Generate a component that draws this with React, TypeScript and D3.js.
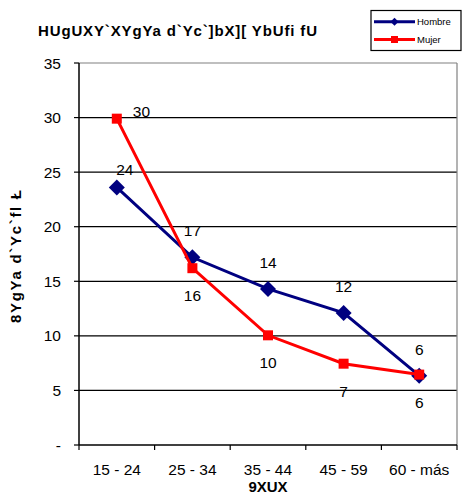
import React from "react";
import * as d3 from "d3";

const categories = ["15 - 24", "25 - 34", "35 - 44", "45 - 59", "60 - más"];
const hombreValues = [23.6, 17.2, 14.3, 12.1, 6.35];
const mujerValues = [29.9, 16.2, 10.05, 7.45, 6.45];
const hombreLabelPos = ["aboveNear", "above", "above", "above", "above"];
const mujerLabelPos = ["right", "below", "below", "below", "below"];
const yTicks = [0, 5, 10, 15, 20, 25, 30, 35];
const titleText = "HUgUXY`XYgYa d`Yc`]bX][ YbUfi fU";
const yAxisTitle = "8YgYa d`Yc`fl Ł";
const xAxisTitle = "9XUX";
const seriesNames = ["Hombre", "Mujer"];

const W = 462;
const H = 499;
const FONT = "Arial, 'Liberation Sans', sans-serif";

export default function App() {
  const left = 79, right = 457, top = 63, bottom = 445;
  const x = d3.scaleBand<string>().domain(categories).range([left, right]).padding(0);
  const y = d3.scaleLinear().domain([0, 35]).range([bottom, top]);
  const cx = (c: string) => (x(c) as number) + x.bandwidth() / 2;
  const line = d3.line<number>().x((_, i) => cx(categories[i])).y((v) => y(v));
  const fmt = (v: number) => String(Math.round(v));

  const labelOffset = (pos: string) => {
    switch (pos) {
      case "aboveNear": return { dx: 8, dy: -12, anchor: "middle" };
      case "above": return { dx: 0, dy: -21, anchor: "middle" };
      case "below": return { dx: 0, dy: 33, anchor: "middle" };
      case "right": return { dx: 16, dy: -2, anchor: "start" };
      default: return { dx: 0, dy: 0, anchor: "middle" };
    }
  };

  const diamond = (px: number, py: number, r: number) =>
    `M${px},${py - r}L${px + r},${py}L${px},${py + r}L${px - r},${py}Z`;

  const series = [
    { name: seriesNames[0], values: hombreValues, color: "#000080", marker: "diamond", pos: hombreLabelPos },
    { name: seriesNames[1], values: mujerValues, color: "#FF0000", marker: "square", pos: mujerLabelPos },
  ];

  return (
    <svg width={W} height={H} style={{ position: "absolute", left: 0, top: 0, background: "#fff" }} fontFamily={FONT}>
      <rect x={0} y={0} width={W} height={H} fill="#fff" />
      {yTicks.filter((t) => t > 0 && t < 35).map((t) => (
        <line key={t} x1={left} x2={right} y1={y(t)} y2={y(t)} stroke="#000" strokeWidth={1.2} />
      ))}
      <line x1={left} x2={right} y1={y(35)} y2={y(35)} stroke="#808080" strokeWidth={1.2} />
      <line x1={right} x2={right} y1={y(35)} y2={bottom} stroke="#808080" strokeWidth={1.2} />
      <line x1={left} x2={left} y1={y(35)} y2={bottom} stroke="#000" strokeWidth={1.5} />
      <line x1={left} x2={right} y1={bottom} y2={bottom} stroke="#000" strokeWidth={1.5} />
      {yTicks.map((t) => (
        <g key={t}>
          <line x1={left - 5} x2={left} y1={y(t)} y2={y(t)} stroke="#000" strokeWidth={1.2} />
          <text x={61} y={y(t) + 5.5} textAnchor="end" fontSize={15.5} fill="#000">
            {t === 0 ? "-" : String(t)}
          </text>
        </g>
      ))}
      {categories.map((c, i) => (
        <line key={"xt" + i} x1={x(c) as number} x2={x(c) as number} y1={bottom} y2={bottom + 5} stroke="#000" strokeWidth={1.2} />
      ))}
      <line x1={right} x2={right} y1={bottom} y2={bottom + 5} stroke="#000" strokeWidth={1.2} />
      {categories.map((c) => (
        <text key={c} x={cx(c)} y={475} textAnchor="middle" fontSize={15.5} fill="#000">{c}</text>
      ))}
      {series.map((s) => (
        <g key={s.name}>
          <path d={line(s.values) as string} fill="none" stroke={s.color} strokeWidth={3} />
          {s.values.map((v, i) => {
            const px = cx(categories[i]);
            const py = y(v);
            return s.marker === "diamond" ? (
              <path key={i} d={diamond(px, py, 8)} fill={s.color} />
            ) : (
              <rect key={i} x={px - 5} y={py - 5} width={10} height={10} fill={s.color} />
            );
          })}
        </g>
      ))}
      {series.map((s) => (
        <g key={s.name + "lab"}>
          {s.values.map((v, i) => {
            const o = labelOffset(s.pos[i]);
            return (
              <text key={i} x={cx(categories[i]) + o.dx} y={y(v) + o.dy} textAnchor={o.anchor as any} fontSize={15.5} fill="#000">
                {fmt(v)}
              </text>
            );
          })}
        </g>
      ))}
      <text x={38} y={36} fontSize={15} fontWeight="bold" fill="#000" textLength={279} lengthAdjust="spacing">{titleText}</text>
      <text x={268} y={492} textAnchor="middle" fontSize={15} fontWeight="bold" fill="#000">{xAxisTitle}</text>
      <text transform={`translate(21,256.5) rotate(-90)`} textAnchor="middle" fontSize={15} fontWeight="bold" fill="#000" textLength={133} lengthAdjust="spacing">{yAxisTitle}</text>
      <rect x={371} y={10.5} width={90} height={40} fill="#fff" stroke="#000" strokeWidth={1.2} />
      {series.map((s, i) => {
        const ly = i === 0 ? 21.7 : 39.5;
        return (
          <g key={s.name + "leg"}>
            <line x1={374} x2={415} y1={ly} y2={ly} stroke={s.color} strokeWidth={3} />
            {s.marker === "diamond" ? (
              <path d={diamond(394.5, ly, 4)} fill={s.color} />
            ) : (
              <rect x={391} y={ly - 3.5} width={7} height={7} fill={s.color} />
            )}
            <text x={417} y={ly + 3.5} fontSize={9.5} fill="#000">{s.name}</text>
          </g>
        );
      })}
    </svg>
  );
}
